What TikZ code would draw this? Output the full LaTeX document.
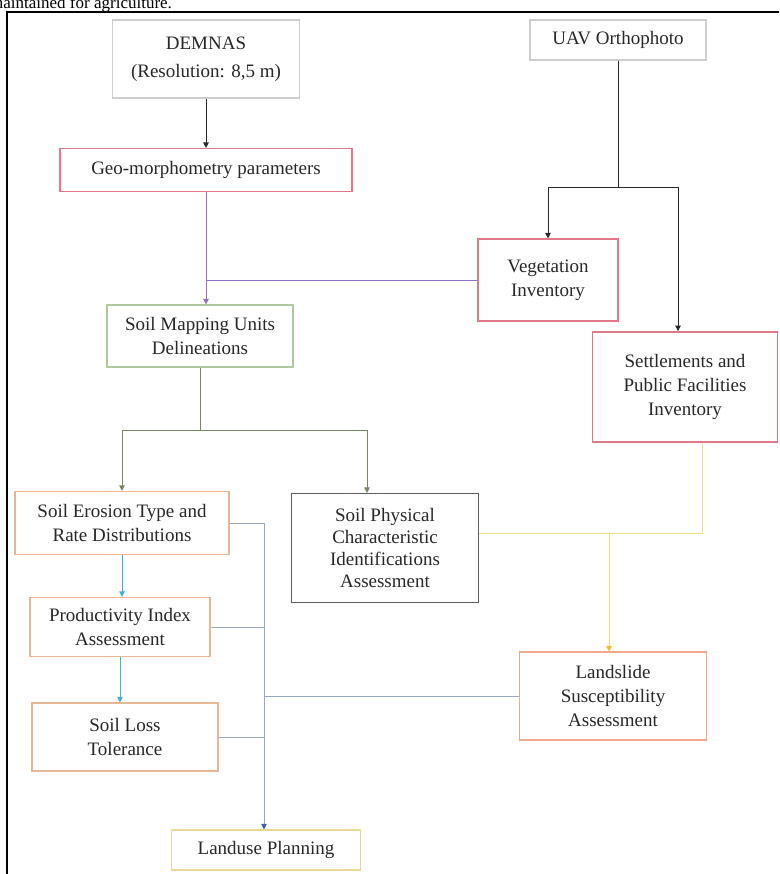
\documentclass[tikz,border=0pt]{standalone}
\usepackage{fontspec}
\setmainfont{Liberation Serif}
\usetikzlibrary{arrows.meta}
\definecolor{soiltext}{RGB}{40,40,40}
\definecolor{soilgray}{RGB}{205,205,205}
\definecolor{soilrose}{RGB}{225,120,138}
\definecolor{soilsage}{RGB}{176,200,160}
\definecolor{soilpeach}{RGB}{230,184,152}
\definecolor{soilslate}{RGB}{95,95,95}
\definecolor{soilsalmon}{RGB}{240,168,144}
\definecolor{soilsand}{RGB}{232,216,152}
\definecolor{soilink}{RGB}{40,40,40}
\definecolor{soilviolet}{RGB}{144,112,200}
\definecolor{soilolive}{RGB}{120,136,96}
\definecolor{soilcyan}{RGB}{64,176,224}
\definecolor{soilsteel}{RGB}{152,168,192}
\definecolor{soilblue}{RGB}{64,96,176}
\definecolor{soillemon}{RGB}{238,226,125}
\definecolor{soilgold}{RGB}{232,192,48}

\begin{document}
\begin{tikzpicture}[
    x=1pt, y=-1pt,
    box/.style={draw, line width=1.1pt, fill=white, align=center,
                inner sep=0pt, text=soiltext, font=\fontsize{19}{24}\selectfont},
    graybox/.style={box, draw=soilgray},
    rosebox/.style={box, draw=soilrose},
    sagebox/.style={box, draw=soilsage},
    peachbox/.style={box, draw=soilpeach},
    slatebox/.style={box, draw=soilslate},
    salmonbox/.style={box, draw=soilsalmon},
    sandbox/.style={box, draw=soilsand},
    flow/.style={line width=1pt},
    tip/.style={-{Triangle[width=5.5pt,length=5.5pt]}},
  ]
  \useasboundingbox (0,0) rectangle (779,874);
  \clip (0,0) rectangle (779,874);

  % ---- page frame and caption remnant ----
  \draw[line width=2pt] (7,874) -- (7,12) -- (779,12);
  \node[anchor=base west, inner sep=0pt, text=black,
        font=\fontsize{17}{20}\selectfont] (caption) at (-10,9) {maintained for agriculture.};

  % ---- boxes --------------------------------------------------
  \node[graybox,   minimum width=187, minimum height=78]  (demnas) at (206, 59) {DEMNAS\\[4pt](Resolution: 8,5 m)};
  \node[graybox,   minimum width=176, minimum height=40]  (uav)    at (618, 40) {UAV Orthophoto};
  \node[rosebox,   minimum width=292, minimum height=43]  (geo)    at (206,170) {Geo-morphometry parameters};
  \node[rosebox,   minimum width=140, minimum height=82]  (veg)    at (548,280) {Vegetation\\Inventory};
  \node[sagebox,   minimum width=186, minimum height=62]  (soilmap) at (200,336) {Soil Mapping Units\\Delineations};
  \node[rosebox, line width=1.8pt, minimum width=185, minimum height=110] (settle) at (685,387) {Settlements and\\Public Facilities\\Inventory};
  \node[peachbox,  minimum width=214, minimum height=63]  (erosion) at (122,523) {Soil Erosion Type and\\Rate Distributions};
  \node[slatebox,  minimum width=187, minimum height=109,
        font=\fontsize{19}{22}\selectfont] (physical) at (385,548) {Soil Physical\\Characteristic\\Identifications\\Assessment};
  \node[peachbox,  minimum width=180, minimum height=59]  (prod)   at (120,627) {Productivity Index\\Assessment};
  \node[peachbox,  minimum width=186, minimum height=68]  (loss)   at (125,737) {Soil Loss\\Tolerance};
  \node[salmonbox, minimum width=187, minimum height=88]  (slide)  at (613,696) {Landslide\\Susceptibility\\Assessment};
  \node[sandbox,   minimum width=189, minimum height=40]  (landuse) at (266,850) {Landuse Planning};

  % ---- junctions ----------------------------------------------
  \coordinate (uavsplit) at (618,188);
  \coordinate (mapsplit) at (200,430);
  \coordinate (trunk)    at (264,523);
  \coordinate (yelbend)  at (702,533);
  \coordinate (yeljoin)  at (609,533);

  % ---- source links -------------------------------------------
  \draw[flow, soilink, tip] (demnas.south) -- (demnas.south |- geo.north);
  \draw[flow, soilink] (uav.south) -- (uavsplit);
  \draw[flow, soilink, tip] (uavsplit) -| (veg.north);
  \draw[flow, soilink, tip] (uavsplit) -| ([xshift=-7pt]settle.north);

  % ---- geomorphometry links -----------------------------------
  \draw[flow, soilviolet, tip] (geo.south) -- (geo.south |- soilmap.north);
  \draw[flow, soilviolet] (veg.west) -- (veg.west -| geo.south);

  % ---- mapping unit links -------------------------------------
  \draw[flow, soilolive] (soilmap.south) -- (mapsplit);
  \draw[flow, soilolive, tip] (mapsplit) -| (erosion.north);
  \draw[flow, soilolive, tip] (mapsplit) -| ([xshift=-18pt]physical.north);

  % ---- erosion chain ------------------------------------------
  \draw[flow, soilcyan, tip] (erosion.south) -- (erosion.south |- prod.north);
  \draw[flow, soilcyan, tip] (prod.south) -- (prod.south |- loss.north);

  % ---- landslide links ----------------------------------------
  \draw[flow, soillemon] ([xshift=17pt]settle.south) -- (yelbend) -- (yelbend -| physical.east);
  \draw[flow, soillemon, -{Triangle[width=5.5pt,length=5.5pt,color=soilgold]}] (yeljoin) -- (yeljoin |- slide.north);

  % ---- landuse links ------------------------------------------
  \draw[flow, soilsteel] (erosion.east |- trunk) -- (trunk);
  \draw[flow, soilsteel] (prod.east) -- (prod.east -| trunk);
  \draw[flow, soilsteel] (loss.east) -- (loss.east -| trunk);
  \draw[flow, soilsteel] (slide.west) -- (slide.west -| trunk);
  \draw[flow, soilsteel, -{Triangle[width=5.5pt,length=5.5pt,color=soilblue]}] (trunk) -- (trunk |- landuse.north);

\end{tikzpicture}
\end{document}
